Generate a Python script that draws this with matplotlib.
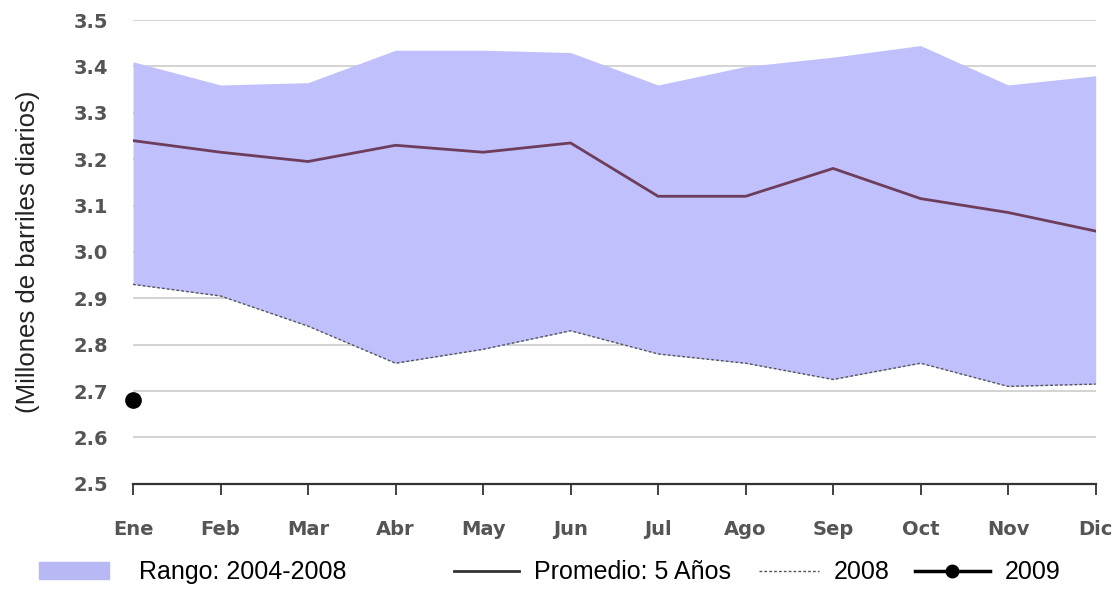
#!/usr/bin/env python3

import matplotlib
matplotlib.use('Agg')
import matplotlib.pyplot as plt
from matplotlib.patches import Patch
from matplotlib.lines import Line2D

# Monthly data (millones de barriles diarios)
months = ['Ene', 'Feb', 'Mar', 'Abr', 'May', 'Jun',
          'Jul', 'Ago', 'Sep', 'Oct', 'Nov', 'Dic']
range_high = [3.41, 3.36, 3.365, 3.435, 3.435, 3.43,
              3.36, 3.40, 3.42, 3.445, 3.36, 3.38]
range_low = [2.93, 2.905, 2.84, 2.76, 2.79, 2.83,
             2.78, 2.76, 2.725, 2.76, 2.71, 2.715]
avg_5yr = [3.24, 3.215, 3.195, 3.23, 3.215, 3.235,
           3.12, 3.12, 3.18, 3.115, 3.085, 3.045]
y2008 = range_low
y2009 = [2.68]
legend_labels = ['Rango: 2004-2008', 'Promedio: 5 Años', '2008', '2009']


def main():
    x = list(range(len(months)))
    fig = plt.figure(figsize=(11.18, 5.90), dpi=100)
    ax = fig.add_axes([0.119, 0.180, 0.861, 0.786])

    ax.fill_between(x, range_low, range_high, color='#c0c0fc', lw=0)
    ax.plot(x, avg_5yr, color='#6e3d5c', lw=2)
    ax.plot(x, y2008, color='#555555', lw=1, linestyle=(0, (2, 1.5)))
    ax.plot(x[:len(y2009)], y2009, color='black', marker='o', markersize=11,
            lw=2, clip_on=False)

    ax.set_xlim(0, 11)
    ax.set_ylim(2.5, 3.5)
    ax.set_yticks([2.5 + 0.1 * i for i in range(11)])
    ax.set_yticklabels(['%.1f' % (2.5 + 0.1 * i) for i in range(11)],
                       fontsize=14, fontweight='bold', color='#555555')
    ax.set_xticks(x)
    ax.set_xticklabels(months, fontsize=14, fontweight='bold', color='#555555')
    ax.tick_params(axis='y', length=0, pad=18)
    ax.tick_params(axis='x', length=8, width=1.3, direction='out', pad=18,
                   color='#333333')

    ax.grid(axis='y', color='#cccccc', lw=1.2)
    ax.set_axisbelow(True)
    for side in ['top', 'right', 'left']:
        ax.spines[side].set_visible(False)
    ax.spines['bottom'].set_color('#333333')
    ax.spines['bottom'].set_linewidth(1.6)

    ax.set_ylabel('(Millones de barriles diarios)', fontsize=18.5,
                  family='Liberation Sans', color='#222222', labelpad=24)

    handles = [
        Patch(color='#b8b8f4'),
        Line2D([], [], color='#333333', lw=2),
        Line2D([], [], color='#555555', lw=1, linestyle=(0, (2, 1.5))),
        Line2D([], [], color='black', lw=2.5, marker='o', markersize=9),
    ]
    # each legend entry placed on its own, as the source spaces them unevenly
    anchors = [0.035, 0.406, 0.679, 0.818]
    hlen = [2.8, 2.6, 2.4, 3.0]
    tpad = [1.2, 0.6, 0.6, 0.6]
    for h, lab, a, hl, tp in zip(handles, legend_labels, anchors, hlen, tpad):
        fig.legend([h], [lab], loc='center left', frameon=False,
                   bbox_to_anchor=(a, 0.03), borderaxespad=0, borderpad=0,
                   prop={'family': 'Liberation Sans', 'size': 18},
                   handlelength=hl, handletextpad=tp)

    fig.savefig('out.png', dpi=100)


if __name__ == '__main__':
    main()
